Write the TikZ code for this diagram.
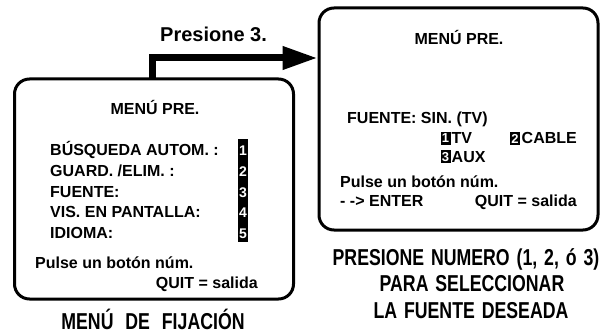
\documentclass[tikz,border=0pt]{standalone}
\usepackage{fontspec}
\setmainfont{Liberation Sans}
\newfontfamily\condfont{Liberation Sans}[FakeStretch=0.77, WordSpace=1.4]
\usetikzlibrary{arrows.meta}
\tikzset{
  x=1pt, y=-1pt,
  screen/.style={line width=3pt, rounded corners=15pt},
  body/.style={inner sep=0pt, font=\fontsize{16}{19}\selectfont\bfseries},
  lbl/.style={inner sep=0pt, font=\fontsize{20}{24}\selectfont\bfseries},
  caption/.style={inner sep=0pt, align=center, font=\condfont\fontsize{23}{26}\selectfont\bfseries},
  numstrip/.style={fill=black},
  numdig/.style={inner sep=0pt, text=white, font=\fontsize{14}{14}\selectfont\bfseries},
  numbox/.style={fill=black, inner sep=0pt, minimum width=10pt, minimum height=13pt, text=white, font=\fontsize{13}{13}\selectfont\bfseries},
}
\begin{document}
\begin{tikzpicture}
\useasboundingbox (0,0) rectangle (608,334);
% screens
\draw[screen] (14.5,79) rectangle (293.5,299);
\draw[screen] (319,8) rectangle (598,230);
\coordinate (Ltop) at (152,79);
\coordinate (bend) at (152,58);
\coordinate (Rleft) at (317.5,58);
% arrow
\draw[line width=7pt, miter limit=10, -{Triangle[length=35pt,width=22pt]}] (Ltop) -- (bend) -- (Rleft);
\node[lbl, anchor=base west] (p3) at (160,42) {Presione 3.};
% left screen
\node[body, anchor=base] (lt) at (155,115) {MENÚ PRE.};
\node[body, anchor=base west] (l1) at (50,156) {BÚSQUEDA AUTOM. :};
\node[body, anchor=base west] (l2) at (50,176.5) {GUARD. /ELIM. :};
\node[body, anchor=base west] (l3) at (50,197) {FUENTE:};
\node[body, anchor=base west] (l4) at (50,217.5) {VIS. EN PANTALLA:};
\node[body, anchor=base west] (l5) at (50,238) {IDIOMA:};
\fill[numstrip] (238,139) rectangle (248,242);
\node[numdig, anchor=base] (n1) at (243,156) {1};
\node[numdig, anchor=base] (n2) at (243,176.5) {2};
\node[numdig, anchor=base] (n3) at (243,197) {3};
\node[numdig, anchor=base] (n4) at (243,217.5) {4};
\node[numdig, anchor=base] (n5) at (243,238) {5};
\node[body, anchor=base west] (lp) at (35,268) {Pulse un botón núm.};
\node[body, anchor=base east] (lq) at (258,288) {QUIT = salida};
\node[caption, anchor=base] (lc) at (153,329) {MENÚ\hspace{5pt} DE\hspace{5pt} FIJACIÓN};
% right screen
\node[body, anchor=base] (rt) at (459,45) {MENÚ PRE.};
\node[body, anchor=base west] (rf) at (347,124) {FUENTE: SIN. (TV)};
\node[numbox] (b1) at (445.5,138.5) {1};
\node[body, anchor=base west] (tv) at (451.5,144) {TV};
\node[numbox] (b2) at (515,138.5) {2};
\node[body, anchor=base west] (cb) at (521.5,144) {CABLE};
\node[numbox] (b3) at (445.5,157) {3};
\node[body, anchor=base west] (ax) at (451.5,163) {AUX};
\node[body, anchor=base west] (rp) at (340,188) {Pulse un botón núm.};
\node[body, anchor=base west] (re) at (340,207) {- -> ENTER};
\node[body, anchor=base east] (rq) at (577,207) {QUIT = salida};
\node[caption, anchor=base] (rc1) at (466,265) {PRESIONE NUMERO (1, 2, ó 3)};
\node[caption, anchor=base] (rc2) at (472,291) {PARA SELECCIONAR};
\node[caption, anchor=base] (rc3) at (471,318) {LA FUENTE DESEADA};
\end{tikzpicture}
\end{document}
